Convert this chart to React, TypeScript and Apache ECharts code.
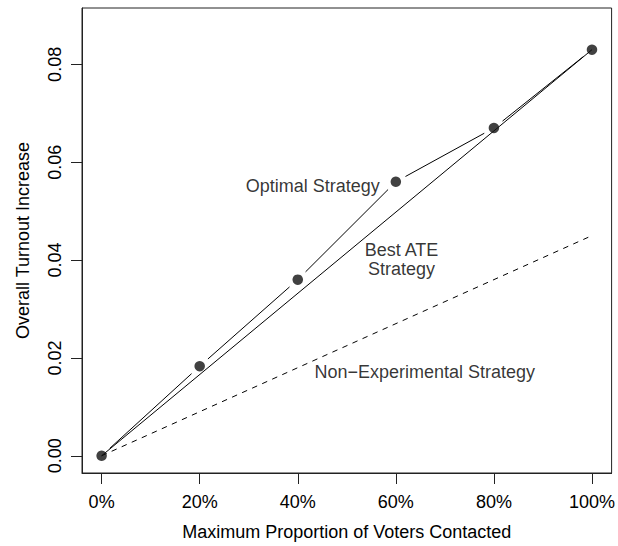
import React, { useEffect, useRef } from "react";
import * as echarts from "echarts";

// Data
const xTicks = [0, 0.2, 0.4, 0.6, 0.8, 1.0];
const yTicks = [0, 0.02, 0.04, 0.06, 0.08];
const optimalX = [0, 0.2, 0.4, 0.6, 0.8, 1.0];
const optimalY = [0, 0.0183, 0.036, 0.056, 0.067, 0.083];
const bestAteX = [0, 1.0];
const bestAteY = [0, 0.083];
const nonExpX = [0, 1.0];
const nonExpY = [0, 0.045];
const annotations = [
  { text: "Optimal Strategy", x: 0.4305, y: 0.0551 },
  { text: "Best ATE\nStrategy", x: 0.6116, y: 0.0401 },
  { text: "Non\u2212Experimental Strategy", x: 0.6591, y: 0.0171 },
];

const FONT = "'Liberation Sans', Arial, Helvetica, sans-serif";
const INK = "#000";

export default function App() {
  const ref = useRef<HTMLDivElement>(null);
  useEffect(() => {
    if (!ref.current) return;
    const chart = echarts.init(ref.current, null, { renderer: "svg" });

    const segments: number[][] = [];
    for (let i = 0; i < optimalX.length - 1; i++) {
      segments.push([optimalX[i], optimalY[i], optimalX[i + 1], optimalY[i + 1]]);
    }
    const GAP = 11;

    chart.setOption({
      animation: false,
      grid: {
        left: 82,
        right: 3,
        top: 8,
        bottom: 72,
        show: true,
        borderColor: "#222",
        borderWidth: 1,
        backgroundColor: "transparent",
      },
      xAxis: {
        type: "value",
        min: -0.04,
        max: 1.04,
        position: "bottom",
        axisLine: { show: true, onZero: false, lineStyle: { color: "#222", width: 1 } },
        splitLine: { show: false },
        axisTick: {
          show: true,
          length: 11,
          inside: false,
          customValues: xTicks,
          lineStyle: { color: "#222", width: 1 },
        },
        axisLabel: {
          customValues: xTicks,
          margin: 20,
          fontSize: 18,
          fontFamily: FONT,
          color: INK,
          formatter: (v: number) => `${Math.round(v * 100)}%`,
        },
        name: "Maximum Proportion of Voters Contacted",
        nameLocation: "middle",
        nameGap: 50,
        nameTextStyle: { fontSize: 18, fontFamily: FONT, color: INK },
      },
      yAxis: {
        type: "value",
        min: -0.00352,
        max: 0.09152,
        position: "left",
        axisLine: { show: true, onZero: false, lineStyle: { color: "#222", width: 1 } },
        splitLine: { show: false },
        axisTick: {
          show: true,
          length: 11,
          inside: false,
          customValues: yTicks,
          lineStyle: { color: "#222", width: 1 },
        },
        axisLabel: {
          customValues: yTicks,
          rotate: 90,
          margin: 18,
          fontSize: 18,
          fontFamily: FONT,
          color: INK,
          formatter: (v: number) => v.toFixed(2),
        },
        name: "Overall Turnout Increase",
        nameLocation: "middle",
        nameGap: 50,
        nameTextStyle: { fontSize: 18, fontFamily: FONT, color: INK },
      },
      series: [
        {
          type: "line",
          data: nonExpX.map((x, i) => [x, nonExpY[i]]),
          showSymbol: false,
          lineStyle: { color: INK, width: 1, type: [5.5, 5.5] },
          z: 2,
        },
        {
          type: "line",
          data: bestAteX.map((x, i) => [x, bestAteY[i]]),
          showSymbol: false,
          lineStyle: { color: INK, width: 1 },
          z: 2,
        },
        {
          type: "custom",
          data: segments,
          encode: { x: [0, 2], y: [1, 3] },
          renderItem: (params: any, api: any) => {
            const p1 = api.coord([api.value(0), api.value(1)]);
            const p2 = api.coord([api.value(2), api.value(3)]);
            const dx = p2[0] - p1[0];
            const dy = p2[1] - p1[1];
            const len = Math.sqrt(dx * dx + dy * dy);
            const ux = dx / len;
            const uy = dy / len;
            return {
              type: "line",
              shape: {
                x1: p1[0] + ux * GAP,
                y1: p1[1] + uy * GAP,
                x2: p2[0] - ux * GAP,
                y2: p2[1] - uy * GAP,
              },
              style: { stroke: INK, lineWidth: 1 },
            };
          },
          z: 3,
        },
        {
          type: "scatter",
          data: optimalX.map((x, i) => [x, optimalY[i]]),
          symbol: "circle",
          symbolSize: 10.5,
          itemStyle: { color: "#111" },
          z: 4,
        },
        {
          type: "scatter",
          data: annotations.map((a) => ({ value: [a.x, a.y], name: a.text })),
          symbolSize: 0,
          silent: true,
          label: {
            show: true,
            position: "inside",
            formatter: (p: any) => p.name,
            fontSize: 18,
            lineHeight: 19,
            fontFamily: FONT,
            color: INK,
            align: "center",
            verticalAlign: "middle",
          },
          z: 5,
        },
      ],
    });
    return () => chart.dispose();
  }, []);

  return (
    <div
      ref={ref}
      style={{ position: "absolute", left: 0, top: 0, width: 618, height: 546 }}
    />
  );
}
